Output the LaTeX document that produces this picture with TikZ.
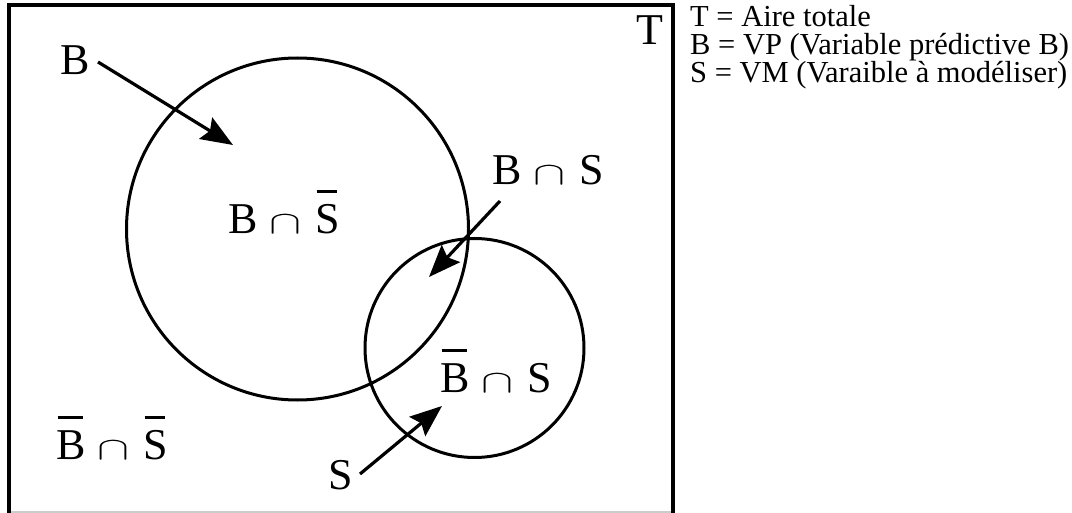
\documentclass[tikz,border=0pt]{standalone}
\usepackage{fontspec}
\setmainfont{Liberation Serif}
\usetikzlibrary{arrows.meta}
\newcommand\ovl[1]{\begingroup\setbox0\hbox{#1}\rlap{\hbox to\wd0{\hskip0.05\wd0\raisebox{0.92em}{\rule{0.85\wd0}{0.05em}}\hss}}\box0\endgroup}
\newcommand\capx{\hspace{12pt}\resizebox{32pt}{18pt}{$\cap$}\hspace{14pt}}
\tikzset{
  frameline/.style={line width=3.5pt},
  setcircle/.style={line width=3pt},
  pointer/.style={line width=3.2pt,-{Stealth[length=32pt,width=25pt,inset=5pt]}},
  biglabel/.style={font=\fontsize{44}{48}\selectfont, inner sep=0pt},
  legend/.style={font=\fontsize{30.5}{32}\selectfont, inner sep=0pt, anchor=base west},
}
\begin{document}
\begin{tikzpicture}[x=1pt,y=-1pt]
\useasboundingbox (0,0) rectangle (1072,513);
% frame
\draw[gray!40, line width=1.2pt] (9,512) -- (673,512);
\draw[frameline] (9,513) -- (9,5) -- (673,5) -- (673,513);
% circles
\draw[setcircle] (297.5,229) circle[radius=171];
\draw[setcircle] (474.5,348) circle[radius=109.5];
% labels
\node[biglabel] (T) at (650,30) {T};
\node[biglabel] (lB) at (75,60) {B};
\node[biglabel] (BnotS) at (284,212) {B\capx\ovl{S}};
\node[biglabel] (BS) at (548,170) {B\capx S};
\node[biglabel] (notBS) at (496,371) {\ovl{B}\capx S};
\node[biglabel] (lS) at (341,475) {S};
\node[biglabel] (notBnotS) at (112,438) {\ovl{B}\capx\ovl{S}};
% arrow ends
\coordinate (Bstart) at (98,62);
\coordinate (Btip) at (233,145);
\coordinate (BSstart) at (500,201);
\coordinate (BStip) at (429,277);
\coordinate (Sstart) at (360,474);
\coordinate (Stip) at (442,406);
\draw[pointer] (Bstart) -- (Btip);
\draw[pointer] (BSstart) -- (BStip);
\draw[pointer] (Sstart) -- (Stip);
% legend
\node[legend] (leg1) at (690,27) {T = Aire totale};
\node[legend] (leg2) at (690,55) {B = VP (Variable prédictive B)};
\node[legend] (leg3) at (690,83) {S = VM (Varaible à modéliser)};
\end{tikzpicture}
\end{document}
